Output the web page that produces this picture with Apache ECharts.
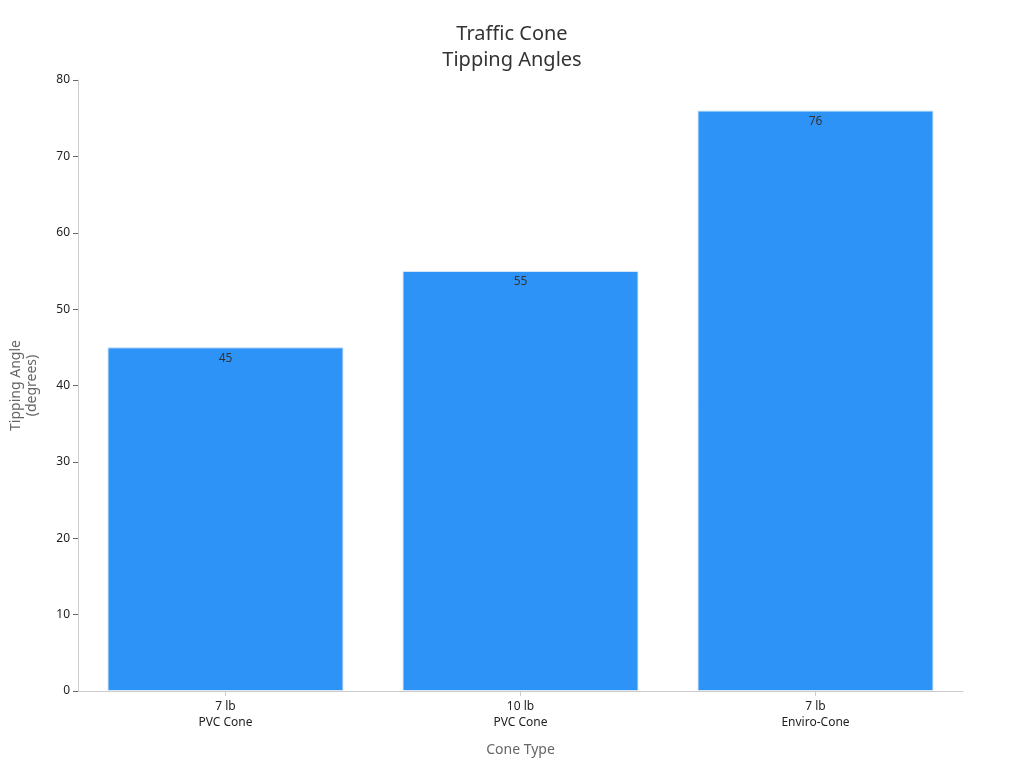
<!DOCTYPE html>
<html><head><meta charset="utf-8">
<script src="https://cdn.jsdelivr.net/npm/echarts@6/dist/echarts.min.js"></script>
<style>html,body{margin:0;padding:0;background:#fff}#c{width:1024px;height:768px}</style>
</head><body><div id="c"></div>
<script>
const categories = ["7 lb\nPVC Cone", "10 lb\nPVC Cone", "7 lb\nEnviro-Cone"];
const values = [45, 55, 76];
const yTicks = [0, 10, 20, 30, 40, 50, 60, 70, 80];
const chart = echarts.init(document.getElementById('c'));
const font = '"Noto Sans", sans-serif';
chart.setOption({
  animation: false,
  textStyle: { fontFamily: font },
  title: { text: 'Traffic Cone\nTipping Angles', left: 'center', top: 16,
    textStyle: { fontFamily: font, fontSize: 20, fontWeight: 'normal', color: '#333', lineHeight: 26 } },
  grid: { left: 78, right: 61, top: 80, bottom: 77, containLabel: false, outerBoundsMode: 'none' },
  xAxis: { type: 'category', data: categories, name: 'Cone Type', nameLocation: 'middle', nameGap: 52,
    nameTextStyle: { fontSize: 14, color: '#666' },
    axisLine: { lineStyle: { color: '#ccc' } }, axisTick: { show: true, alignWithLabel: true, lineStyle: { color: '#ccc' } },
    axisLabel: { color: '#222', fontSize: 12, lineHeight: 16 } },
  yAxis: { type: 'value', min: yTicks[0], max: yTicks[yTicks.length-1], interval: 10,
    name: 'Tipping Angle\n(degrees)', nameLocation: 'middle', nameGap: 38, nameRotate: 90,
    nameTextStyle: { fontSize: 14, color: '#666', lineHeight: 16 },
    axisLine: { show: true, lineStyle: { color: '#ccc' } }, axisTick: { show: true, lineStyle: { color: '#666' } },
    splitLine: { show: false }, axisLabel: { color: '#222', fontSize: 12 } },
  series: [{ type: 'bar', data: values, barCategoryGap: '20%',
    itemStyle: { color: '#2E93F7', borderColor: '#d8e8f8', borderWidth: 1 },
    label: { show: true, position: 'insideTop', distance: 5, color: '#333', fontSize: 12 } }]
});
</script></body></html>
